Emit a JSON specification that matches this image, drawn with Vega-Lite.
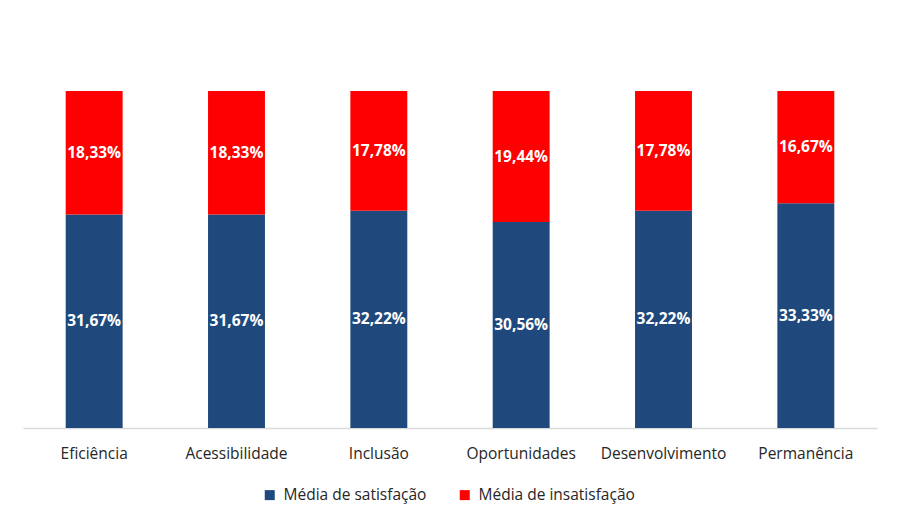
{
  "$schema": "https://vega.github.io/schema/vega-lite/v6.json",
  "width": 854,
  "height": 337,
  "padding": {"left": 23, "top": 91, "right": 23, "bottom": 5},
  "background": "white",
  "data": {
    "values": [
      {"dimensao": "Eficiência", "serie": "Média de satisfação", "valor": 0.3167},
      {"dimensao": "Eficiência", "serie": "Média de insatisfação", "valor": 0.1833},
      {"dimensao": "Acessibilidade", "serie": "Média de satisfação", "valor": 0.3167},
      {"dimensao": "Acessibilidade", "serie": "Média de insatisfação", "valor": 0.1833},
      {"dimensao": "Inclusão", "serie": "Média de satisfação", "valor": 0.3222},
      {"dimensao": "Inclusão", "serie": "Média de insatisfação", "valor": 0.1778},
      {"dimensao": "Oportunidades", "serie": "Média de satisfação", "valor": 0.3056},
      {"dimensao": "Oportunidades", "serie": "Média de insatisfação", "valor": 0.1944},
      {"dimensao": "Desenvolvimento", "serie": "Média de satisfação", "valor": 0.3222},
      {"dimensao": "Desenvolvimento", "serie": "Média de insatisfação", "valor": 0.1778},
      {"dimensao": "Permanência", "serie": "Média de satisfação", "valor": 0.3333},
      {"dimensao": "Permanência", "serie": "Média de insatisfação", "valor": 0.1667}
    ]
  },
  "transform": [
    {"calculate": "datum.serie === 'Média de satisfação' ? 0 : 1", "as": "ordem"},
    {
      "stack": "valor",
      "groupby": ["dimensao"],
      "sort": [{"field": "ordem", "order": "ascending"}],
      "offset": "normalize",
      "as": ["base", "topo"]
    },
    {"calculate": "(datum.base + datum.topo) / 2", "as": "meio"}
  ],
  "encoding": {
    "x": {
      "field": "dimensao",
      "type": "nominal",
      "sort": null,
      "title": null,
      "scale": {"paddingInner": 0.6, "paddingOuter": 0.3},
      "axis": {
        "labelAngle": 0,
        "ticks": false,
        "domainColor": "#d9d9d9",
        "domainWidth": 1.5,
        "labelFont": "Open Sans",
        "labelFontSize": 15.5,
        "labelColor": "#262626",
        "labelPadding": 18
      }
    }
  },
  "layer": [
    {
      "mark": {"type": "bar"},
      "encoding": {
        "y": {"field": "base", "type": "quantitative", "axis": null, "scale": {"domain": [0, 1]}},
        "y2": {"field": "topo"},
        "color": {
          "field": "serie",
          "type": "nominal",
          "title": null,
          "scale": {
            "domain": ["Média de satisfação", "Média de insatisfação"],
            "range": ["#1f497d", "#ff0000"]
          },
          "legend": {
            "orient": "none",
            "legendX": 239,
            "legendY": 396,
            "direction": "horizontal",
            "symbolType": "square",
            "symbolSize": 100,
            "symbolStrokeWidth": 0,
            "labelFont": "Open Sans",
            "labelFontSize": 15.5,
            "labelColor": "#262626",
            "labelOffset": 6,
            "columnPadding": 30
          }
        }
      }
    },
    {
      "mark": {"type": "text", "color": "white", "fontWeight": "bold", "font": "Open Sans", "fontSize": 15.5},
      "encoding": {
        "y": {"field": "meio", "type": "quantitative"},
        "text": {"field": "valor", "type": "quantitative", "format": ".2%"}
      }
    }
  ],
  "config": {
    "view": {"stroke": null},
    "locale": {
      "number": {"decimal": ",", "thousands": ".", "grouping": [3], "currency": ["R$", ""]}
    }
  }
}
